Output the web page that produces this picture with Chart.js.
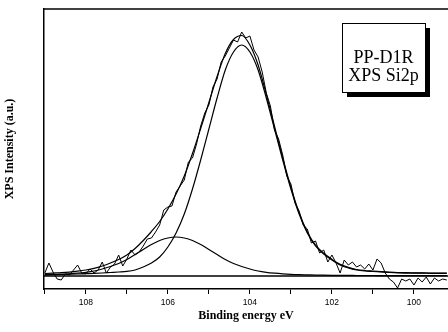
<!DOCTYPE html>
<html>
<head>
<meta charset="utf-8">
<script src="https://cdn.jsdelivr.net/npm/chart.js@4/dist/chart.umd.min.js"></script>
<style>
html,body{margin:0;padding:0;background:#fff;}
#wrap{width:448px;height:332px;position:relative;}
</style>
</head>
<body>
<div id="wrap"><canvas id="c" width="448" height="332"></canvas></div>
<script>
// Binding energy grid for the fitted curves (eV)
const fitEnergy = [109.0,108.8,108.6,108.4,108.2,108.0,107.8,107.6,107.4,107.2,107.0,106.8,106.6,106.4,106.2,106.0,105.8,105.6,105.4,105.2,105.0,104.8,104.6,104.4,104.2,104.0,103.8,103.6,103.4,103.2,103.0,102.8,102.6,102.4,102.2,102.0,101.8,101.6,101.4,101.2,101.0,100.8,100.6,100.4,100.2,100.0,99.8,99.6,99.4,99.2];
// Main Si2p component (a.u., above background)
const mainPeak = [1.4,1.6,1.7,1.8,2.0,2.3,2.6,3.0,3.5,4.0,4.6,6,9,13,19,29,43,62,87,116,147,178,206,224,231,224,206,178,147,116,87,62,43,30,22,16,11,8,6,5,4.5,4,3.5,3.1,2.9,2.8,2.8,2.7,2.7,2.7];
// Second (high binding energy) component
const minorPeak = [1.1,1.3,1.6,2.1,2.8,3.7,5,7,9.5,12.5,16.5,21.5,26.5,31.5,35.5,38,39,38,35.5,31.5,26.5,21.5,16.5,12.5,9.5,7,5,3.7,2.8,2.1,1.6,1.3,1.1,0.9,0.8,0.7,0.6,0.6,0.5,0.5,0.5,0.4,0.4,0.4,0.4,0.4,0.3,0.3,0.3,0.3];
// Fit envelope
const envelope = [2.5,2.9,3.3,3.9,4.8,6.0,7.6,10,13,16.5,21,27.5,35.5,44.5,54.5,67,82,100,122.5,147.5,173.5,199.5,222.5,236.5,240.5,231,211,181.7,149.8,118.1,88.6,63.3,44.1,30.9,22.8,16.7,11.6,8.6,6.5,5.5,5,4.4,3.9,3.5,3.3,3.2,3.1,3,3,3];
// Measured spectrum
const rawEnergy = [109.0,108.9,108.8,108.7,108.6,108.5,108.4,108.3,108.2,108.1,108.0,107.9,107.8,107.7,107.6,107.5,107.4,107.3,107.2,107.1,107.0,106.9,106.8,106.7,106.6,106.5,106.4,106.3,106.2,106.1,106.0,105.9,105.8,105.7,105.6,105.5,105.4,105.3,105.2,105.1,105.0,104.9,104.8,104.7,104.6,104.5,104.4,104.3,104.2,104.1,104.0,103.9,103.8,103.7,103.6,103.5,103.4,103.3,103.2,103.1,103.0,102.9,102.8,102.7,102.6,102.5,102.4,102.3,102.2,102.1,102.0,101.9,101.8,101.7,101.6,101.5,101.4,101.3,101.2,101.1,101.0,100.9,100.8,100.7,100.6,100.5,100.4,100.3,100.2,100.1,100.0,99.9,99.8,99.7,99.6,99.5,99.4,99.3,99.2];
const rawIntensity = [3,13,4,-3,-4,2,1,6,11,3,2,7,3,6,14,3,9,12,21,10,17,26,21,24,30,37,38,44,51,66,69,70,84,90,96,114,118,132,150,163,171,189,197,214,220,228,236,234,244,238,240,226,219,204,183,170,146,137,121,100,92,73,65,51,47,33,35,23,26,14,21,13,3,16,11,14,9,11,7,12,6,17,13,3,-3,-6,-12,-3,-5,-3,-9,-2,-6,-1,-8,-2,-5,-3,-4];
// Background line
const baseEnergy = [109.02, 99.17];
const baseIntensity = [0, 0];
// Axis
const xMin = 99.17, xMax = 109.02;
const yMin = -13, yMax = 267;
const xTitle = 'Binding energy eV';
const yTitle = 'XPS Intensity (a.u.)';
const boxLines = ['PP-D1R', 'XPS Si2p'];

const pts = (xs, ys) => xs.map((x, i) => ({x: x, y: ys[i]}));
const lineDs = (data, w) => ({data: data, borderColor: '#000', borderWidth: w, pointRadius: 0, fill: false, tension: 0, showLine: true});

const frameAndBox = {
  id: 'frameAndBox',
  afterDraw(chart) {
    const ctx = chart.ctx, a = chart.chartArea;
    ctx.save();
    // top frame line
    ctx.strokeStyle = '#000';
    ctx.lineWidth = 1.5;
    ctx.beginPath();
    ctx.moveTo(a.left, a.top);
    ctx.lineTo(chart.width, a.top);
    ctx.stroke();
    // annotation box with shadow
    const bx = 342, by = 23, bw = 83, bh = 69;
    ctx.fillStyle = '#000';
    ctx.fillRect(bx + 5, by + 5, bw, bh);
    ctx.fillStyle = '#fff';
    ctx.fillRect(bx, by, bw, bh);
    ctx.lineWidth = 1;
    ctx.strokeRect(bx + 0.5, by + 0.5, bw, bh);
    ctx.fillStyle = '#000';
    ctx.font = "18px 'Liberation Serif', 'DejaVu Serif', serif";
    ctx.textAlign = 'center';
    ctx.textBaseline = 'alphabetic';
    ctx.fillText(boxLines[0], bx + bw / 2, 63);
    ctx.fillText(boxLines[1], bx + bw / 2, 81);
    ctx.restore();
  }
};

new Chart(document.getElementById('c'), {
  type: 'line',
  data: {
    datasets: [
      lineDs(pts(baseEnergy, baseIntensity), 1.5),
      Object.assign(lineDs(pts(fitEnergy, minorPeak), 1.2), {tension: 0.4, cubicInterpolationMode: 'monotone'}),
      Object.assign(lineDs(pts(fitEnergy, mainPeak), 1.2), {tension: 0.4, cubicInterpolationMode: 'monotone'}),
      Object.assign(lineDs(pts(fitEnergy, envelope), 1.2), {tension: 0.4, cubicInterpolationMode: 'monotone'}),
      lineDs(pts(rawEnergy, rawIntensity), 1)
    ]
  },
  options: {
    responsive: false,
    animation: false,
    devicePixelRatio: 1,
    layout: {padding: {top: 9, right: 0, left: 0, bottom: 0}},
    plugins: {legend: {display: false}, tooltip: {enabled: false}},
    scales: {
      x: {
        type: 'linear',
        reverse: true,
        min: xMin, max: xMax,
        afterFit(s) { s.height = 43; },
        border: {display: true, color: '#000', width: 1.5},
        grid: {display: true, drawOnChartArea: false, drawTicks: true, tickLength: 5, color: '#000', lineWidth: 1},
        ticks: {
          stepSize: 1, includeBounds: false, autoSkip: false, maxRotation: 0, padding: 4,
          color: '#000',
          font: {family: "'Liberation Sans', Arial, sans-serif", size: 8.5},
          callback: (v) => (Math.abs(v - Math.round(v)) < 1e-6 ? (Math.round(v) % 2 === 0 ? String(Math.round(v)) : '') : null)
        },
        title: {display: true, text: xTitle, color: '#000', padding: {top: 0, bottom: 9},
          font: {family: "'Liberation Serif', 'Times New Roman', serif", size: 12, weight: 'bold'}}
      },
      y: {
        type: 'linear',
        min: yMin, max: yMax,
        afterFit(s) { s.width = 44; },
        border: {display: true, color: '#000', width: 1.5},
        grid: {display: false},
        ticks: {display: false},
        title: {display: true, text: yTitle, color: '#000', padding: {top: 3, bottom: 0},
          font: {family: "'Liberation Serif', 'Times New Roman', serif", size: 12, weight: 'bold'}}
      }
    }
  },
  plugins: [frameAndBox]
});
</script>
</body>
</html>
